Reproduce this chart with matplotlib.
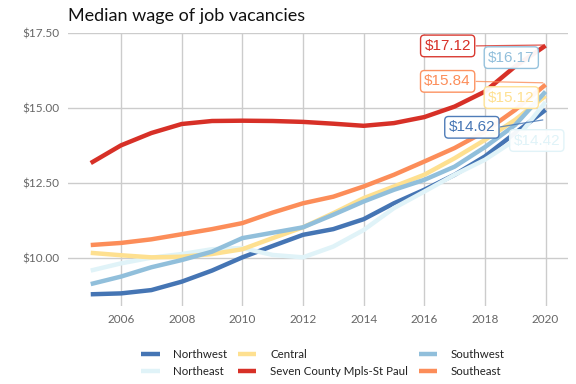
import numpy as np
import matplotlib.pyplot as plt

plt.rcParams['font.family'] = ['Lato', 'DejaVu Sans']

years = np.arange(2005, 2021)

# median wage per region
northwest = [8.80, 8.83, 8.94, 9.22, 9.59, 10.03, 10.41, 10.78, 10.97, 11.30,
             11.83, 12.28, 12.78, 13.39, 14.17, 14.94]
northeast = [9.59, 9.83, 10.02, 10.14, 10.30, 10.34, 10.11, 10.03, 10.39, 10.94,
             11.67, 12.22, 12.78, 13.28, 13.94, 15.20]
central = [10.18, 10.10, 10.03, 10.05, 10.14, 10.30, 10.67, 11.03, 11.50, 12.00,
           12.39, 12.78, 13.33, 13.94, 14.61, 15.41]
seven_county = [13.17, 13.76, 14.17, 14.47, 14.57, 14.58, 14.57, 14.54, 14.48, 14.41,
                14.50, 14.70, 15.05, 15.55, 16.39, 17.08]
southwest = [9.14, 9.39, 9.70, 9.94, 10.22, 10.67, 10.85, 11.03, 11.45, 11.89,
             12.28, 12.61, 13.05, 13.70, 14.44, 15.55]
southeast = [10.44, 10.51, 10.63, 10.80, 10.97, 11.17, 11.52, 11.83, 12.05, 12.39,
             12.78, 13.22, 13.67, 14.22, 14.94, 15.78]

names = ['Northwest', 'Northeast', 'Central', 'Seven County Mpls-St Paul',
         'Southwest', 'Southeast']
series = [northwest, northeast, central, seven_county, southwest, southeast]
colors = ['#4575b4', '#e0f3f8', '#fee090', '#d73027', '#91bfdb', '#fc8d59']

# end labels: text, colour, label position, leader end (None = no leader)
labels = [
    ('$17.12', '#d73027', (2016.77, 17.07), (2020, 17.10)),
    ('$16.17', '#91bfdb', (2018.87, 16.68), None),
    ('$15.84', '#fc8d59', (2016.77, 15.89), (2020, 15.84)),
    ('$15.12', '#fee090', (2018.87, 15.35), None),
    ('$14.62', '#4575b4', (2017.57, 14.36), (2020, 14.62)),
    ('$14.42', '#e0f3f8', (2019.71, 13.92), None),
]

fig = plt.figure(figsize=(5.76, 3.84), dpi=100)
ax = fig.add_axes([68/576, 1 - 306/384, 500/576, 273/384])

for name, vals, c in zip(names, series, colors):
    ax.plot(years, vals, color=c, lw=3.2, label=name, solid_capstyle='butt')

for txt, c, pos, end in labels:
    if end is not None:
        ax.annotate('', xy=end, xytext=(pos[0] + 0.85, pos[1]),
                    arrowprops=dict(arrowstyle='-', color=c, lw=0.9, alpha=0.8))
    ax.text(pos[0], pos[1], txt, color=c, fontsize=11, ha='center', va='center',
            family=['Liberation Sans', 'DejaVu Sans'],
            bbox=dict(boxstyle='round,pad=0.25,rounding_size=0.25', fc='white',
                      ec=c, lw=1.0, alpha=0.95))

ax.set_xlim(2004.25, 2020.74)
ax.set_ylim(8.41, 17.5)
ax.set_xticks(range(2006, 2021, 2))
ax.set_yticks([10, 12.5, 15, 17.5])
ax.set_yticklabels(['$10.00', '$12.50', '$15.00', '$17.50'])
ax.grid(True, color='#cccccc', lw=1)
ax.set_axisbelow(True)
for s in ax.spines.values():
    s.set_visible(False)
ax.tick_params(length=0, labelsize=8.5, labelcolor='#666666', pad=6)

fig.text(68/576, 1 - 16/384, 'Median wage of job vacancies', fontsize=13,
         ha='left', va='center', color='#111111')

ax.legend(loc='upper center', bbox_to_anchor=(0.51, -0.12), ncol=3,
          frameon=False, fontsize=8.3, handlelength=1.6, handletextpad=1.2,
          columnspacing=0.9, labelspacing=0.55, labelcolor='#222222')

fig.savefig('out.png', dpi=100)
